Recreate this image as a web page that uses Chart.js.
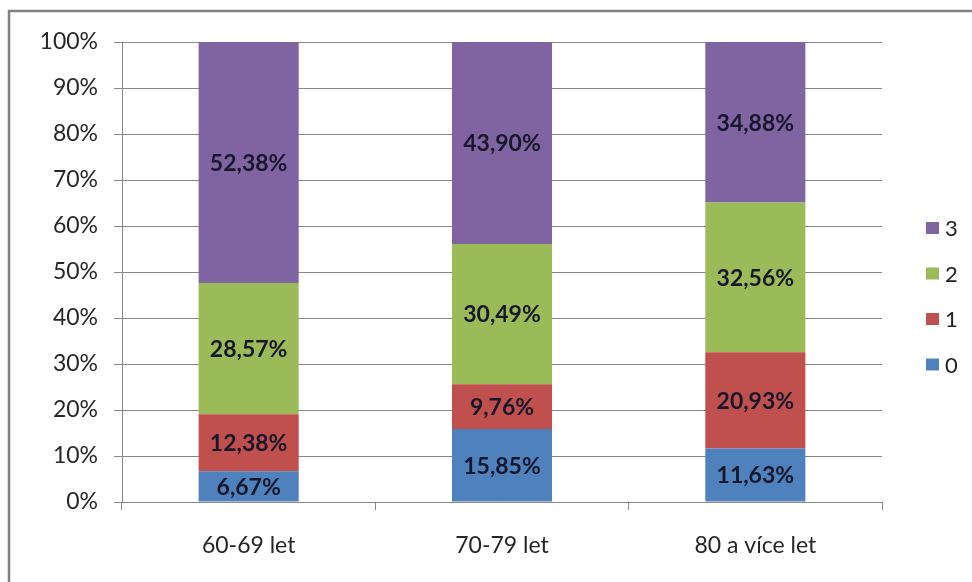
<!DOCTYPE html>
<html lang="cs">
<head>
<meta charset="utf-8">
<title>Rozložení podle věku</title>
<script src="https://cdn.jsdelivr.net/npm/chart.js@4.4.1/dist/chart.umd.min.js"></script>
<style>
  html, body { margin: 0; padding: 0; background: #fff; }
  #wrap { position: relative; width: 972px; height: 582px; }
</style>
</head>
<body>
<div id="wrap"><canvas id="chart" width="972" height="582"></canvas></div>
<script>
// categories and series (percent shares per age group)
const categories = ['60-69 let', '70-79 let', '80 a více let'];
const seriesNames = ['0', '1', '2', '3'];
const series0 = [6.67, 15.85, 11.63];
const series1 = [12.38, 9.76, 20.93];
const series2 = [28.57, 30.49, 32.56];
const series3 = [52.38, 43.90, 34.88];
const colors = ['#4F81BD', '#C0504D', '#9BBB59', '#8064A2'];
const yTicks = [0, 10, 20, 30, 40, 50, 60, 70, 80, 90, 100];

const FONT = 'Lato, "Open Sans", sans-serif';
const fmt = v => v.toFixed(2).replace('.', ',') + '%';

// outer frame (top and left edge only)
const framePlugin = {
    id: 'frame',
    beforeDraw(chart) {
        const c = chart.ctx;
        c.save();
        c.strokeStyle = '#808080';
        c.lineWidth = 2.5;
        c.beginPath();
        c.moveTo(9, 582);
        c.lineTo(9, 11);
        c.lineTo(972, 11);
        c.stroke();
        c.restore();
    }
};

// value labels centred in each segment
const valueLabels = {
    id: 'valueLabels',
    afterDatasetsDraw(chart) {
        const c = chart.ctx;
        c.save();
        c.font = 'bold 23px ' + FONT;
        c.fillStyle = '#17172b';
        c.textAlign = 'center';
        c.textBaseline = 'middle';
        chart.data.datasets.forEach((ds, i) => {
            chart.getDatasetMeta(i).data.forEach((bar, j) => {
                const p = bar.getCenterPoint();
                c.fillText(fmt(ds.data[j]), p.x, p.y + 1);
            });
        });
        c.restore();
    }
};

// legend on the right, top item = last series
const sideLegend = {
    id: 'sideLegend',
    afterDraw(chart) {
        const c = chart.ctx;
        const ds = chart.data.datasets;
        c.save();
        c.font = '22px ' + FONT;
        c.textBaseline = 'middle';
        c.textAlign = 'left';
        for (let k = 0; k < ds.length; k++) {
            const d = ds[ds.length - 1 - k];
            const y = 228 + k * 45.5;
            c.fillStyle = d.backgroundColor;
            c.fillRect(926, y - 6, 13, 12);
            c.fillStyle = '#222';
            c.fillText(d.label, 945, y + 1);
        }
        c.restore();
    }
};

const seriesData = [series0, series1, series2, series3];

new Chart(document.getElementById('chart'), {
    type: 'bar',
    data: {
        labels: categories,
        datasets: seriesNames.map((name, i) => ({
            label: name,
            data: seriesData[i],
            backgroundColor: colors[i],
            borderWidth: 0,
            categoryPercentage: 1,
            barPercentage: 0.395
        }))
    },
    options: {
        responsive: false,
        animation: false,
        layout: { padding: { top: 42, right: 90, bottom: 0, left: 0 } },
        plugins: { legend: { display: false }, tooltip: { enabled: false } },
        scales: {
            x: {
                stacked: true,
                grid: { drawOnChartArea: false, drawTicks: true, tickLength: 8, color: '#868686', offset: true },
                border: { color: '#868686', width: 1 },
                ticks: { color: '#262626', font: { family: FONT, size: 23 }, padding: 22 },
                afterFit(s) { s.height = 80; }
            },
            y: {
                stacked: true,
                min: 0,
                max: 100,
                afterBuildTicks(s) { s.ticks = yTicks.map(v => ({ value: v })); },
                grid: { color: '#868686', tickLength: 8 },
                border: { color: '#868686', width: 1 },
                ticks: { color: '#262626', font: { family: FONT, size: 23 }, padding: 16, callback: v => v + '%' },
                afterFit(s) { s.width = 122; }
            }
        }
    },
    plugins: [framePlugin, valueLabels, sideLegend]
});
</script>
</body>
</html>
